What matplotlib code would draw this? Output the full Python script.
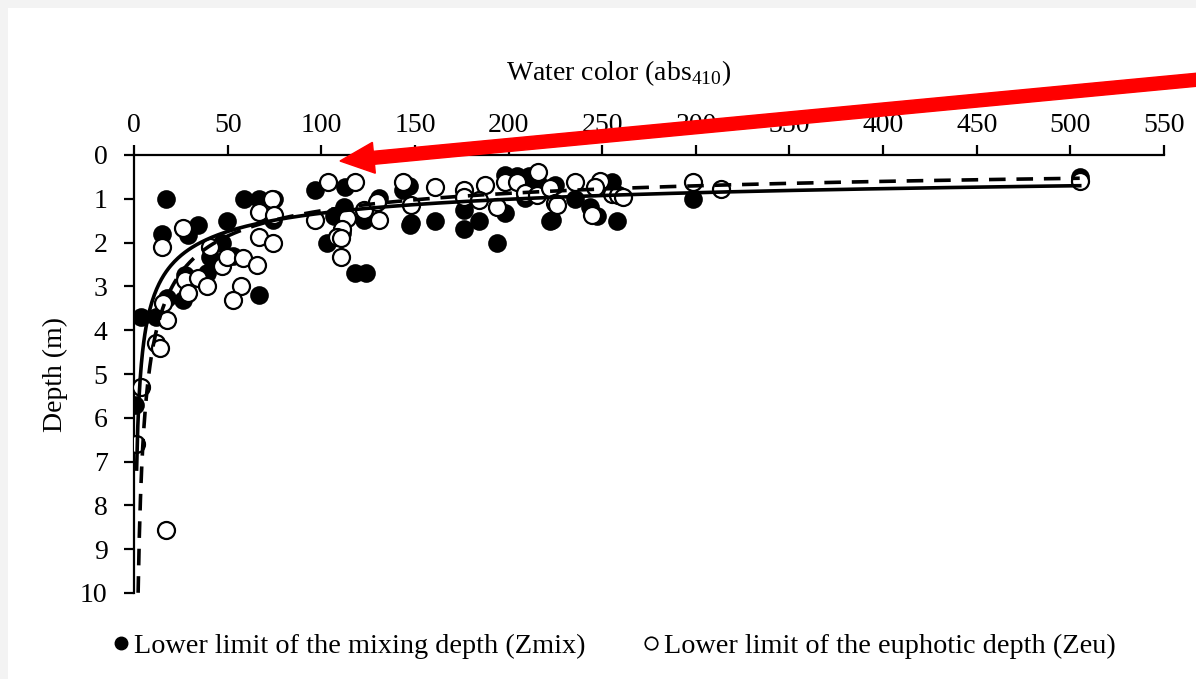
import numpy as np
import matplotlib
matplotlib.use("Agg")
import matplotlib.pyplot as plt
from matplotlib.lines import Line2D
from matplotlib.patches import FancyArrow, Rectangle
from matplotlib.transforms import IdentityTransform

plt.rcParams['font.family'] = ['Liberation Serif', 'DejaVu Serif']
plt.rcParams['mathtext.fontset'] = 'custom'
plt.rcParams['mathtext.rm'] = 'Liberation Serif'

# Zmix (filled circles)
zmix_x = [0.5, 4, 17, 15, 12, 17.6, 27, 26, 29, 34, 39, 40.6, 47, 49.7, 58.7, 67, 67, 53, 75, 74,
          96.6, 112.5, 103, 112, 107, 111, 118, 124, 123, 131, 143.6, 148, 147, 147.4, 160.7,
          176, 176, 184, 194, 198, 222, 198, 204.5, 211, 209, 225, 235.5, 243.5, 247, 223, 258,
          255, 298.5, 215.7, 505]
zmix_y = [5.7, 3.7, 1.0, 1.8, 3.7, 3.27, 2.74, 3.3, 1.83, 1.6, 2.69, 2.33, 2.0, 1.5, 1.0, 1.0, 3.2, 2.3, 1.0, 1.48,
          0.8, 0.73, 2.0, 1.18, 1.4, 1.78, 2.7, 2.7, 1.48, 0.98, 0.8, 1.56, 0.7, 1.6, 1.5,
          1.25, 1.7, 1.5, 2.0, 1.32, 1.5, 0.46, 0.48, 0.48, 0.98, 0.68, 1.0, 1.18, 1.4, 1.48, 1.5,
          0.62, 1.0, 0.64, 0.5]

# Zeu (open circles)
zeu_x = [1, 4, 17, 12, 14, 15, 26, 15.5, 17.6, 27, 29, 34, 39, 40.6, 47, 49.6, 58, 65.7, 57, 53,
         67, 67, 73.7, 75, 74, 103.6, 118, 96.6, 113.7, 111, 108.5, 110.5, 110.5, 123, 130, 131,
         143.6, 148, 160.7, 176, 176, 187.5, 184, 194, 198, 204.5, 215.7, 209, 215, 222, 225,
         235.5, 248.8, 226, 244.6, 246, 255, 258.5, 261, 298.5, 313.4, 505]
zeu_y = [6.6, 5.3, 8.56, 4.3, 4.4, 2.1, 1.67, 3.37, 3.77, 2.86, 3.15, 2.8, 3.0, 2.1, 2.53, 2.33, 2.36, 2.5, 3.0, 3.3,
         1.3, 1.87, 1.0, 1.37, 2.0, 0.62, 0.62, 1.48, 1.44, 1.7, 1.87, 1.9, 2.33, 1.25, 1.07, 1.48,
         0.62, 1.14, 0.73, 0.8, 0.95, 0.69, 1.03, 1.18, 0.62, 0.62, 0.39, 0.87, 0.91, 0.76, 1.1,
         0.62, 0.59, 1.14, 1.37, 0.72, 0.88, 0.91, 0.95, 0.62, 0.77, 0.6]

# power-law trendlines  y = a * x^-b
zmix_fit = (8.19, 0.395)
zeu_fit = (15.3, 0.54)

x_ticks = list(range(0, 551, 50))
y_ticks = list(range(0, 11))

fig = plt.figure(figsize=(11.96, 6.79), dpi=100)
fig.patch.set_facecolor('#f3f3f3')
fig.add_artist(Rectangle((8 / 1196, 0), 1, 1 - 8 / 679, transform=fig.transFigure,
                         facecolor='white', edgecolor='none', zorder=-10))

ax = fig.add_axes([134 / 1196, 1 - 593 / 679, 1030 / 1196, 438 / 679])
ax.set_facecolor('none')

ax.scatter(zmix_x, zmix_y, s=150, facecolor='black', edgecolor='black', linewidth=1.2, zorder=3)
ax.scatter(zeu_x, zeu_y, s=150, facecolor='white', edgecolor='black', linewidth=1.6, zorder=4)

xs = np.linspace(1.4, 505, 800)
ax.plot(xs, zmix_fit[0] * xs ** -zmix_fit[1], color='black', lw=2.6, zorder=5)
xs2 = np.linspace(2.2, 505, 800)
ax.plot(xs2, zeu_fit[0] * xs2 ** -zeu_fit[1], color='black', lw=2.6, dashes=(4.6, 3.0), zorder=5)

ax.set_xlim(0, 550)
ax.set_ylim(10, 0)
ax.xaxis.tick_top()
ax.set_xticks(x_ticks)
ax.set_yticks(y_ticks)
for s in ['right', 'bottom']:
    ax.spines[s].set_visible(False)
for s in ['left', 'top']:
    ax.spines[s].set_linewidth(1.6)
ax.tick_params(axis='x', direction='out', length=7, width=1.6, pad=5, labelsize=20)
ax.tick_params(axis='y', direction='out', length=7, width=1.6, pad=12, labelsize=20)

fig.text(619 / 1196, 1 - 73 / 679, r'Water color (abs$_{\mathrm{410}}$)', ha='center', va='center', fontsize=20)
fig.text(55 / 1196, 1 - 374 / 679, 'Depth (m)', ha='center', va='center', rotation=90, fontsize=20)

# legend
handles = [Line2D([], [], ls='none', marker='o', ms=9, mfc='black', mec='black'),
           Line2D([], [], ls='none', marker='o', ms=9, mfc='white', mec='black', mew=1.2)]
fig.legend(handles, ['Lower limit of the mixing depth (Zmix)', 'Lower limit of the euphotic depth (Zeu)'],
           loc='center', bbox_to_anchor=(612 / 1196, 1 - 646 / 679), ncol=2, frameon=False,
           fontsize=20.3, handletextpad=0.0, handlelength=0.9, columnspacing=1.9)

# red arrow
tip = (340, 679 - 161)
tail = (1215, 679 - 78)
fig.add_artist(FancyArrow(tail[0], tail[1], tip[0] - tail[0], tip[1] - tail[1], width=13,
                          head_width=31, head_length=34, length_includes_head=True,
                          color='#ff0000', transform=IdentityTransform(), zorder=10))

fig.savefig('out.png', dpi=100)
